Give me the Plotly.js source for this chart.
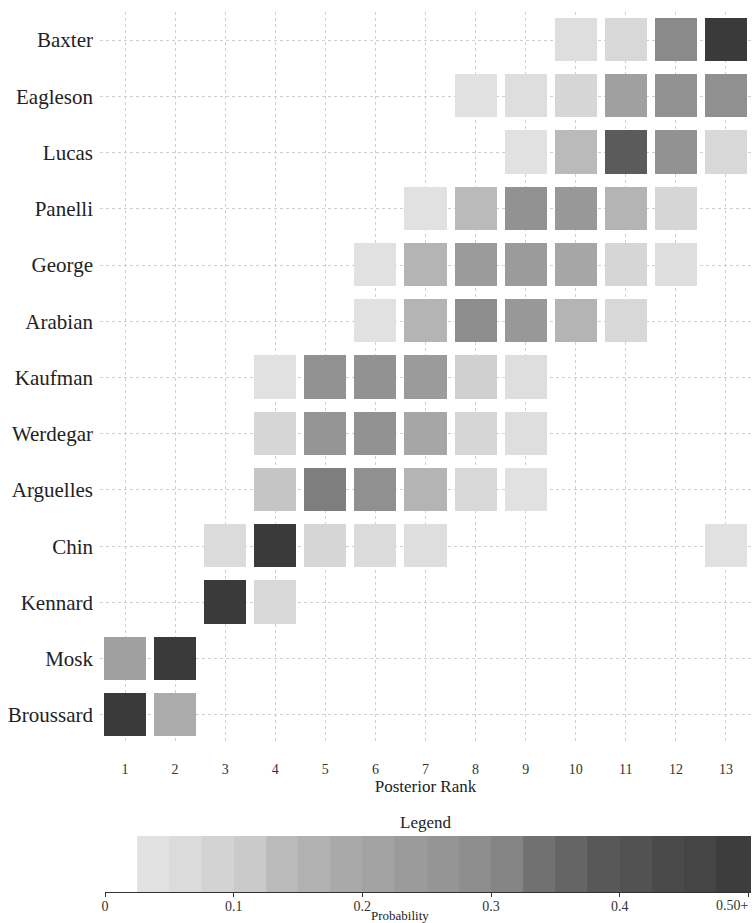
<!DOCTYPE html>
<html>
<head>
<meta charset="utf-8">
<script src="https://cdn.plot.ly/plotly-3.0.1.min.js"></script>
<style>html,body{margin:0;padding:0;background:#fff;}#chart{width:754px;height:923px;}</style>
</head>
<body>
<div id="chart"></div>
<script>
// Judges, top to bottom
const judges = ["Baxter","Eagleson","Lucas","Panelli","George","Arabian","Kaufman","Werdegar","Arguelles","Chin","Kennard","Mosk","Broussard"];
// Posterior ranks
const ranks = [1,2,3,4,5,6,7,8,9,10,11,12,13];
// Probability of each rank (null = no square)
const pBaxter    = [null,null,null,null,null,null,null,null,null,0.05,0.07,0.30,0.52];
const pEagleson  = [null,null,null,null,null,null,null,0.04,0.05,0.08,0.22,0.27,0.28];
const pLucas     = [null,null,null,null,null,null,null,null,0.04,0.14,0.38,0.27,0.07];
const pPanelli   = [null,null,null,null,null,null,0.04,0.14,0.27,0.25,0.15,0.08,null];
const pGeorge    = [null,null,null,null,null,0.04,0.15,0.24,0.24,0.20,0.08,0.05,null];
const pArabian   = [null,null,null,null,null,0.04,0.15,0.29,0.25,0.15,0.07,null,null];
const pKaufman   = [null,null,null,0.04,0.27,0.27,0.24,0.10,0.05,null,null,null,null];
const pWerdegar  = [null,null,null,0.08,0.26,0.27,0.20,0.08,0.05,null,null,null,null];
const pArguelles = [null,null,null,0.12,0.32,0.28,0.15,0.07,0.04,null,null,null,null];
const pChin      = [null,null,0.06,0.55,0.08,0.06,0.05,null,null,null,null,null,0.04];
const pKennard   = [null,null,0.55,0.07,null,null,null,null,null,null,null,null,null];
const pMosk      = [0.22,0.55,null,null,null,null,null,null,null,null,null,null,null];
const pBroussard = [0.55,0.18,null,null,null,null,null,null,null,null,null,null,null];

// Legend bar: band edges and the probability each band shows
const legendEdges  = [0.025,0.05,0.075,0.10,0.125,0.15,0.175,0.20,0.225,0.25,0.275,0.30,0.325,0.35,0.375,0.40,0.425,0.45,0.475,0.502];
const legendValues = [0.04,0.06,0.09,0.11,0.14,0.16,0.19,0.21,0.24,0.26,0.29,0.31,0.34,0.36,0.39,0.41,0.44,0.46,0.49];
const legendTicks  = [0,0.1,0.2,0.3,0.4,0.5];
const legendTickText = ["0","0.1","0.2","0.3","0.4",""];
const legendLastLabel = "0.50+";

const grayScale = [
  [0.00,'#eeeeee'],
  [0.10,'#dedede'],
  [0.20,'#d0d0d0'],
  [0.30,'#b4b4b4'],
  [0.44,'#a0a0a0'],
  [0.60,'#8a8a8a'],
  [0.75,'#5c5c5c'],
  [1.00,'#3a3a3a']
];

const z = [pBaxter,pEagleson,pLucas,pPanelli,pGeorge,pArabian,pKaufman,pWerdegar,pArguelles,pChin,pKennard,pMosk,pBroussard];

const serif = "Liberation Serif, Times New Roman, serif";

const traces = [
  {
    type:'heatmap', x:ranks, y:judges, z:z,
    colorscale:grayScale, zmin:0, zmax:0.5, showscale:false,
    xgap:8, ygap:13, hoverongaps:false,
    xaxis:'x', yaxis:'y'
  },
  {
    type:'heatmap', x:legendEdges, y:[0,1], z:[legendValues],
    colorscale:grayScale, zmin:0, zmax:0.5, showscale:false,
    xaxis:'x2', yaxis:'y2'
  }
];

const H = 923, mt = 12, mb = 5, ph = H - mt - mb;
function fy(px){ return (H - mb - px)/ph; }

const layout = {
  width:754, height:923,
  margin:{l:100, r:3, t:mt, b:mb},
  paper_bgcolor:'#ffffff', plot_bgcolor:'#ffffff',
  font:{family:serif, color:'#222'},
  showlegend:false,
  xaxis:{
    domain:[0,1], range:[0.5,13.5], tickvals:ranks, ticktext:ranks.map(String),
    showgrid:true, gridcolor:'#cfcfcf', griddash:'dot', gridwidth:1,
    zeroline:false, showline:false, ticks:'', ticklabelstandoff:16,
    tickfont:{family:serif, size:14, color:'#333'},
    title:{text:'Posterior Rank', font:{family:serif, size:17, color:'#222'}, standoff:0},
    anchor:'y', fixedrange:true
  },
  yaxis:{
    domain:[fy(743), 1], type:'category', autorange:'reversed',
    showgrid:true, gridcolor:'#cfcfcf', griddash:'dot', gridwidth:1,
    zeroline:false, showline:false, ticks:'', ticklabelstandoff:6,
    tickfont:{family:serif, size:21, color:'#222'},
    anchor:'x', fixedrange:true
  },
  xaxis2:{
    domain:[5/651, 1], range:[0,0.502], anchor:'y2',
    tickvals:legendTicks, ticktext:legendTickText,
    showgrid:false, zeroline:false, showline:true, linecolor:'#333', linewidth:1,
    ticks:'outside', ticklen:4, tickcolor:'#333', ticklabelstandoff:-3,
    tickfont:{family:serif, size:14, color:'#333'}, fixedrange:true
  },
  yaxis2:{
    domain:[fy(892), fy(836)], range:[0,1], anchor:'x2',
    showgrid:false, zeroline:false, showline:false, showticklabels:false, ticks:'', fixedrange:true
  },
  annotations:[
    {text:'Legend', xref:'paper', yref:'paper', x:0.5, y:fy(822), xanchor:'center', yanchor:'middle', showarrow:false,
     font:{family:serif, size:17, color:'#222'}},
    {text:'Probability', xref:'paper', yref:'paper', x:(400-100)/651, y:fy(915), xanchor:'center', yanchor:'middle', showarrow:false,
     font:{family:serif, size:13, color:'#222'}},
    {text:legendLastLabel, xref:'paper', yref:'paper', x:1, y:fy(905), xanchor:'right', yanchor:'middle', showarrow:false,
     font:{family:serif, size:14, color:'#333'}}
  ]
};

Plotly.newPlot('chart', traces, layout, {displayModeBar:false, staticPlot:true});
</script>
</body>
</html>
